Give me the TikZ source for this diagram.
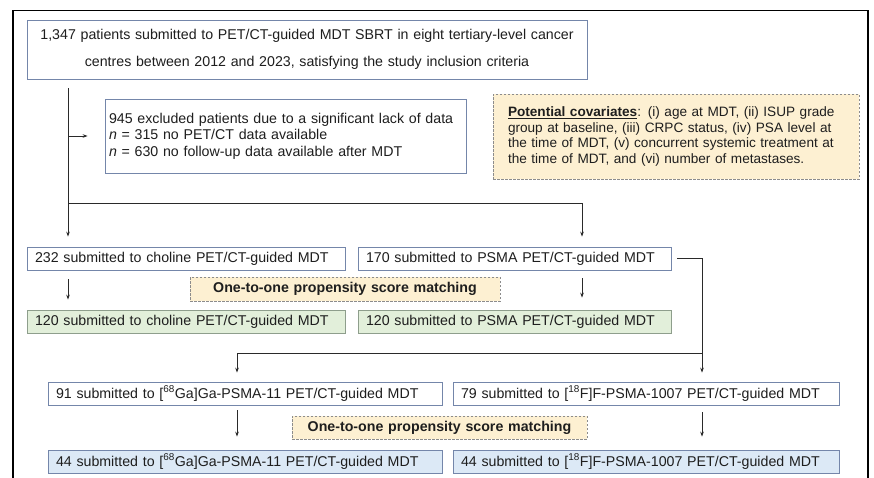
\documentclass[tikz,border=0pt]{standalone}
\usepackage{fontspec}
\setmainfont{Liberation Sans}
\usetikzlibrary{arrows.meta}

\definecolor{edgeblue}{HTML}{7486AA}
\definecolor{edgegreen}{HTML}{8E9E8C}
\definecolor{fillgreen}{HTML}{E2EFDA}
\definecolor{fillblue}{HTML}{DCE9F6}
\definecolor{fillorange}{HTML}{FDF0D2}
\definecolor{edgeorange}{HTML}{8C8C8C}
\definecolor{inkgray}{HTML}{1E1E1E}
\definecolor{linegray}{HTML}{2A2A2A}

\begin{document}
\begin{tikzpicture}[x=1pt,y=-1pt,
  every node/.style={inner ysep=0pt, inner xsep=8pt, text=inkgray},
  txt/.style={font=\fontsize{14.2}{16.5}\selectfont},
  plainbox/.style={draw=edgeblue, line width=0.8pt, fill=white, align=left, txt},
  greenbox/.style={draw=edgegreen, line width=0.8pt, fill=fillgreen, align=left, txt},
  bluebox/.style={draw=edgeblue, line width=0.8pt, fill=fillblue, align=left, txt},
  notebox/.style={draw=edgeorange, dashed, dash pattern=on 2.5pt off 1.5pt, line width=0.7pt, fill=fillorange},
  arr/.style={draw=linegray, line width=0.9pt, -{Stealth[length=5pt,width=3.6pt]}},
  link/.style={draw=linegray, line width=0.9pt}
]
\useasboundingbox (0,0) rectangle (874,477);
\fill[white] (0,0) rectangle (874,477);

% outer frame, open at the bottom
\draw[line width=1.8pt, black] (13,490) -- (13,10.5) -- (868,10.5) -- (868,490);

% --- boxes ---
\node[plainbox, align=center, minimum width=560pt, minimum height=59pt, text width=554pt, inner xsep=3pt] (top) at (307,49.5)
  {1,347 patients submitted to PET/CT-guided MDT SBRT in eight tertiary-level cancer\\[11pt]
   centres between 2012 and 2023, satisfying the study inclusion criteria};

\node[plainbox, minimum width=361pt, minimum height=74pt, text width=353pt, inner xsep=4pt] (exc) at (285.5,136)
  {945 excluded patients due to a significant lack of data\\
   \textit{n} = 315 no PET/CT data available\\
   \textit{n} = 630 no follow-up data available after MDT};

\node[notebox, align=left, minimum width=366pt, minimum height=85pt, text width=354pt, inner xsep=6pt,
      font=\fontsize{13.6}{15.8}\selectfont] (cov) at (676,136.5)
  {\hspace*{9pt}\underline{\textbf{Potential covariates}}: (i) age at MDT, (ii) ISUP grade\\
   \hspace*{9pt}group at baseline, (iii) CRPC status, (iv) PSA level at\\
   \hspace*{9pt}the time of MDT, (v) concurrent systemic treatment at\\
   \hspace*{9pt}the time of MDT, and (vi) number of metastases.};

\node[plainbox, minimum width=318pt, minimum height=23pt, text width=302pt] (cho) at (186,258.5)
  {232 submitted to choline PET/CT-guided MDT};
\node[plainbox, minimum width=313pt, minimum height=23pt, text width=297pt] (psma) at (514.5,258.5)
  {170 submitted to PSMA PET/CT-guided MDT};

\node[notebox, align=center, minimum width=310pt, minimum height=24pt, text width=300pt, inner xsep=5pt, txt] (m1) at (345,289)
  {\textbf{One-to-one propensity score matching}};

\node[greenbox, minimum width=318pt, minimum height=23pt, text width=302pt] (chog) at (186,321.5)
  {120 submitted to choline PET/CT-guided MDT};
\node[greenbox, minimum width=313pt, minimum height=23pt, text width=297pt] (psmag) at (514.5,321.5)
  {120 submitted to PSMA PET/CT-guided MDT};

\node[plainbox, minimum width=394pt, minimum height=23pt, text width=378pt] (ga) at (245,393.5)
  {91 submitted to [\textsuperscript{68}Ga]Ga-PSMA-11 PET/CT-guided MDT};
\node[plainbox, minimum width=386pt, minimum height=23pt, text width=370pt] (fl) at (646,393.5)
  {79 submitted to [\textsuperscript{18}F]F-PSMA-1007 PET/CT-guided MDT};

\node[notebox, align=center, minimum width=295pt, minimum height=23pt, text width=285pt, inner xsep=5pt, txt] (m2) at (439.5,427.5)
  {\textbf{One-to-one propensity score matching}};

\node[bluebox, minimum width=394pt, minimum height=23pt, text width=378pt] (gab) at (245,461.5)
  {44 submitted to [\textsuperscript{68}Ga]Ga-PSMA-11 PET/CT-guided MDT};
\node[bluebox, minimum width=386pt, minimum height=23pt, text width=370pt] (flb) at (646,461.5)
  {44 submitted to [\textsuperscript{18}F]F-PSMA-1007 PET/CT-guided MDT};

% --- junction points of the connectors ---
\coordinate (trunk) at (68,88);
\coordinate (split) at (68,203);
\coordinate (pdrop) at (582,203);
\coordinate (rturn) at (702,258.5);
\coordinate (fork)  at (702,353);
\coordinate (gdrop) at (237,353);

% --- connectors ---
\draw[arr] (trunk) -- ([yshift=10pt]cho.north -| trunk);
\draw[arr] (trunk |- exc.west) -- ([xshift=-17pt]exc.west);
\draw[link] (split) -- (pdrop);
\draw[arr] (pdrop) -- ([yshift=10pt]psma.north -| pdrop);

\draw[arr] ([yshift=-9pt]cho.south -| trunk) -- ([yshift=10pt]chog.north -| trunk);
\draw[arr] ([yshift=-8pt]psma.south -| pdrop) -- ([yshift=12pt]psmag.north -| pdrop);

\draw[link] ([xshift=6pt]psma.east) -- (rturn) -- (fork);
\draw[arr] (fork) -- ([yshift=9pt]fl.north -| fork);
\draw[link] (fork) -- (gdrop);
\draw[arr] (gdrop) -- ([yshift=9pt]ga.north -| gdrop);

\draw[arr] ([yshift=-5pt]ga.south -| gdrop) -- ([yshift=13pt]gab.north -| gdrop);
\draw[arr] ([yshift=-7pt]fl.south -| fork) -- ([yshift=13pt]flb.north -| fork);
\end{tikzpicture}
\end{document}
